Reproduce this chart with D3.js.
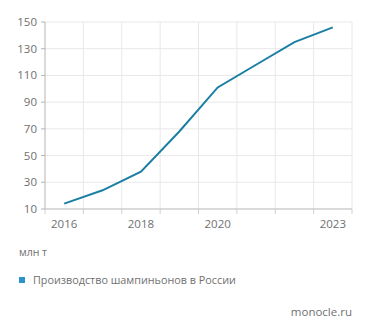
<!DOCTYPE html>
<html>
<head>
<meta charset="utf-8">
<script src="https://cdn.jsdelivr.net/npm/d3@7"></script>
<style>
  body { margin: 0; background: #fff; }
  text { font-family: "Open Sans", sans-serif; }
</style>
</head>
<body>
<script>
// data
var years = [2016, 2017, 2018, 2019, 2020, 2021, 2022, 2023];
var values = [14, 24, 38, 68, 101, 118, 135, 146];
var yTicks = [10, 30, 50, 70, 90, 110, 130, 150];
var xLabels = [2016, 2018, 2020, 2023];
var unit = "млн т";
var seriesName = "Производство шампиньонов в России";
var source = "monocle.ru";

var width = 371, height = 330;
// plot box (note: "top" is taken by window.top)
var pLeft = 45, pRight = 352, pTop = 22, pBottom = 209;

var svg = d3.select("body").append("svg")
            .attr("width", width)
            .attr("height", height);

var x = d3.scaleBand()
          .domain(years)
          .range([pLeft, pRight]);

var y = d3.scaleLinear()
          .domain([10, 150])
          .range([pBottom, pTop]);

// vertical grid at band edges
var edges = years.map(function(d) { return x(d); }).concat([pRight]);

svg.selectAll("line.vgrid")
   .data(edges.slice(1))
   .enter()
   .append("line")
   .attr("x1", function(d) { return d; })
   .attr("x2", function(d) { return d; })
   .attr("y1", pTop)
   .attr("y2", pBottom)
   .attr("stroke", "#e8e8e8")
   .attr("stroke-width", 1);

svg.selectAll("line.hgrid")
   .data(yTicks.slice(1))
   .enter()
   .append("line")
   .attr("x1", pLeft)
   .attr("x2", pRight)
   .attr("y1", function(d) { return y(d); })
   .attr("y2", function(d) { return y(d); })
   .attr("stroke", "#e8e8e8")
   .attr("stroke-width", 1);

// axes
svg.append("line")
   .attr("x1", pLeft).attr("x2", pLeft)
   .attr("y1", pTop).attr("y2", pBottom)
   .attr("stroke", "#b5b5b5");

svg.append("line")
   .attr("x1", pLeft).attr("x2", pRight)
   .attr("y1", pBottom).attr("y2", pBottom)
   .attr("stroke", "#b5b5b5");

svg.selectAll("line.xtick")
   .data(edges)
   .enter()
   .append("line")
   .attr("x1", function(d) { return d; })
   .attr("x2", function(d) { return d; })
   .attr("y1", pBottom)
   .attr("y2", pBottom + 5)
   .attr("stroke", "#d0d0d0");

svg.selectAll("line.ytick")
   .data(yTicks)
   .enter()
   .append("line")
   .attr("x1", pLeft - 4)
   .attr("x2", pLeft)
   .attr("y1", function(d) { return y(d); })
   .attr("y2", function(d) { return y(d); })
   .attr("stroke", "#b5b5b5");

svg.selectAll("text.ylab")
   .data(yTicks)
   .enter()
   .append("text")
   .attr("x", 37)
   .attr("y", function(d) { return y(d) + 4; })
   .attr("text-anchor", "end")
   .attr("font-size", 11.5)
   .attr("fill", "#707070")
   .text(function(d) { return d; });

svg.selectAll("text.xlab")
   .data(xLabels)
   .enter()
   .append("text")
   .attr("x", function(d) { return x(d) + x.bandwidth() / 2; })
   .attr("y", 228)
   .attr("text-anchor", "middle")
   .attr("font-size", 11.5)
   .attr("fill", "#707070")
   .text(function(d) { return d; });

// the line
var line = d3.line()
             .x(function(d, i) { return x(years[i]) + x.bandwidth() / 2; })
             .y(function(d) { return y(d); });

svg.append("path")
   .datum(values)
   .attr("d", line)
   .attr("fill", "none")
   .attr("stroke", "#1b7fa3")
   .attr("stroke-width", 2);

// unit, legend, source
svg.append("text")
   .attr("x", 19)
   .attr("y", 256)
   .attr("font-size", 10.5)
   .attr("fill", "#707070")
   .text(unit);

svg.append("rect")
   .attr("x", 19)
   .attr("y", 277)
   .attr("width", 6)
   .attr("height", 6)
   .attr("fill", "#2b93c9");

svg.append("text")
   .attr("x", 33)
   .attr("y", 284)
   .attr("font-size", 10.8)
   .attr("fill", "#707070")
   .text(seriesName);

svg.append("text")
   .attr("x", 352)
   .attr("y", 316)
   .attr("text-anchor", "end")
   .attr("font-size", 11.5)
   .attr("fill", "#707070")
   .text(source);
</script>
</body>
</html>
